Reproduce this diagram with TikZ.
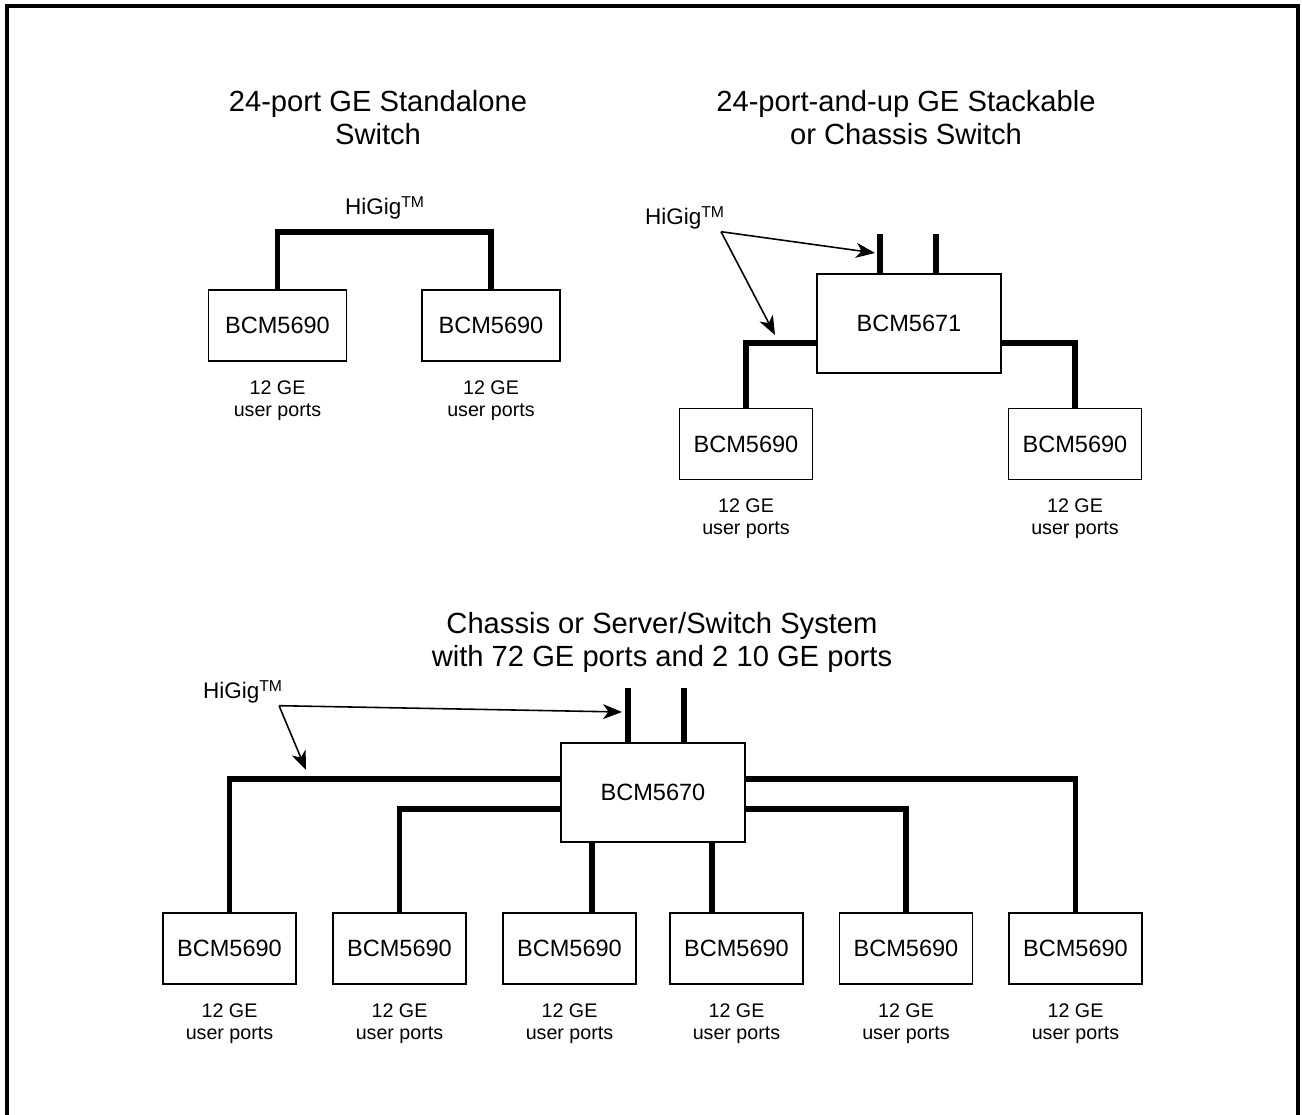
\documentclass[tikz,border=0pt]{standalone}
\usepackage{fontspec}
\setmainfont{Liberation Sans}
\usetikzlibrary{arrows.meta,positioning}

\begin{document}
\begin{tikzpicture}[x=0.02cm,y=-0.02cm,>={Stealth[length=3.8mm,width=3mm,inset=1.1mm]},
    chip/.style={draw,line width=1.1pt,inner sep=0pt,minimum width=2.66cm,minimum height=1.42cm,font=\fontsize{13.4}{16}\selectfont},
    bigchip/.style={chip,minimum width=3.68cm,minimum height=1.98cm},
    ports/.style={align=center,inner sep=0pt,font=\fontsize{11.2}{12.6}\selectfont},
    title/.style={align=center,inner sep=0pt,font=\fontsize{16.6}{18.8}\selectfont},
    higig/.style={inner sep=1pt,font=\fontsize{12.8}{14}\selectfont},
    bus/.style={line width=3.3pt},
    pointer/.style={->,line width=0.9pt}]
      \useasboundingbox (0,0) rectangle (1302,1115);
      \draw[line width=2.3pt] (7,1140) -- (7,6) -- (1298,6) -- (1298,1140);

      % standalone switch
      \node[title] (t1) at (378,118) {24-port GE Standalone\\Switch};
      \node[chip,minimum width=2.76cm] (a1) at (277.5,325.5) {BCM5690};
      \node[chip,minimum width=2.76cm] (a2) at (491,325.5) {BCM5690};
      \node[ports,below=0.36cm of a1] (pa1) {12 GE\\user ports};
      \node[ports,below=0.36cm of a2] (pa2) {12 GE\\user ports};
      \draw[bus] (a1.north) -- ++(0,-57) -| (a2.north); % a1 -> a2
      \node[higig] (hg1) at (385,208) {HiGig\textsuperscript{TM}};

      % stackable or chassis switch
      \node[title] (t2) at (906,118) {24-port-and-up GE Stackable\\or Chassis Switch};
      \node[bigchip] (c5671) at (909,323.5) {BCM5671};
      \node[chip] (b1) at (746,444) {BCM5690};
      \node[chip] (b2) at (1075,444) {BCM5690};
      \node[ports,below=0.36cm of b1] (pb1) {12 GE\\user ports};
      \node[ports,below=0.36cm of b2] (pb2) {12 GE\\user ports};
      \draw[bus] (c5671.west |- 0,343) -| (b1.north); % c5671 -> b1
      \draw[bus] (c5671.east |- 0,343) -| (b2.north); % c5671 -> b2
      \coordinate (u1) at (880,234);
      \coordinate (u2) at (936,234);
      \draw[bus] (u1) -- (u1 |- c5671.north);
      \draw[bus] (u2) -- (u2 |- c5671.north);
      \node[higig] (hg2) at (685,218) {HiGig\textsuperscript{TM}};
      \coordinate (hv1) at (875,253);
      \coordinate (hv2) at (775,335);
      \draw[pointer] ([xshift=-0.12cm]hg2.south east) -- (hv1);
      \draw[pointer] ([xshift=-0.12cm]hg2.south east) -- (hv2);

      % chassis or server/switch system
      \node[title] (t3) at (662,642) {Chassis or Server/Switch System\\with 72 GE ports and 2 10 GE ports};
      \node[bigchip] (c5670) at (653,792.5) {BCM5670};
      \foreach \x [count=\i] in {229.5,399.5,569.5,736.5,906,1075.5} {
        \node[chip] (d\i) at (\x,948.5) {BCM5690};
        \node[ports,below=0.36cm of d\i] (pd\i) {12 GE\\user ports};
      }
      \draw[bus] (c5670.west |- 0,779) -| (d1.north); % c5670 -> d1
      \draw[bus] (c5670.west |- 0,809) -| (d2.north); % c5670 -> d2
      \draw[bus] (c5670.south -| 592,0) -- (d3.north -| 592,0); % c5670 -> d3
      \draw[bus] (c5670.south -| 712,0) -- (d4.north -| 712,0); % c5670 -> d4
      \draw[bus] (c5670.east |- 0,809) -| (d5.north); % c5670 -> d5
      \draw[bus] (c5670.east |- 0,779) -| (d6.north); % c5670 -> d6
      \coordinate (w1) at (628,688);
      \coordinate (w2) at (684,688);
      \draw[bus] (w1) -- (w1 |- c5670.north);
      \draw[bus] (w2) -- (w2 |- c5670.north);
      \node[higig] (hg3) at (243,692) {HiGig\textsuperscript{TM}};
      \coordinate (hw1) at (622,712);
      \coordinate (hw2) at (306,770);
      \draw[pointer] ([xshift=-0.12cm]hg3.south east) -- (hw1);
      \draw[pointer] ([xshift=-0.12cm]hg3.south east) -- (hw2);
    \end{tikzpicture}
\end{document}
